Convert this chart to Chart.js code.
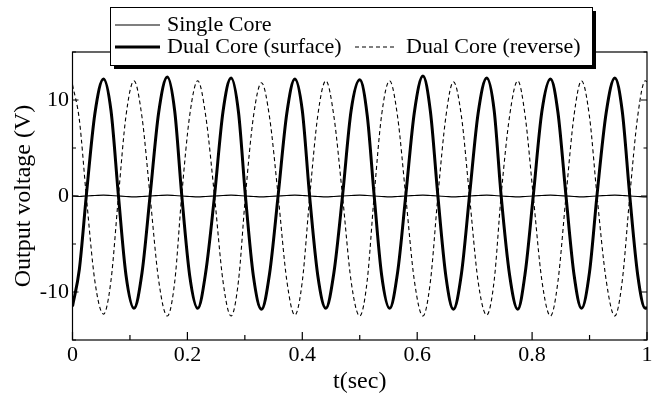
<!DOCTYPE html>
<html>
<head>
<meta charset="utf-8">
<script src="https://cdn.jsdelivr.net/npm/chart.js@4.4.1/dist/chart.umd.min.js"></script>
<style>
  body { margin: 0; background: #fff; }
  #wrap { width: 659px; height: 401px; }
</style>
</head>
<body>
<div id="wrap"><canvas id="grafico" width="659" height="401"></canvas></div>
<script>
// tiempos (s): maximos, cruces por cero y puntos intermedios
var tiempos = [0, 0.012, 0.024, 0.039, 0.054, 0.067, 0.080, 0.093, 0.107, 0.121,
  0.135, 0.150, 0.165, 0.178, 0.190, 0.204, 0.218, 0.232, 0.247, 0.262,
  0.276, 0.289, 0.301, 0.315, 0.329, 0.343, 0.358, 0.373, 0.387, 0.400,
  0.413, 0.427, 0.441, 0.455, 0.470, 0.485, 0.500, 0.513, 0.525, 0.538,
  0.552, 0.566, 0.580, 0.595, 0.610, 0.623, 0.636, 0.650, 0.663, 0.677,
  0.691, 0.706, 0.721, 0.734, 0.746, 0.761, 0.775, 0.788, 0.802, 0.817,
  0.832, 0.845, 0.859, 0.873, 0.886, 0.900, 0.913, 0.929, 0.944, 0.957,
  0.970, 0.984, 0.997, 1.000];

var singleCore = [0, -0.05, 0, 0.05, 0.1, 0.05, 0, -0.05, -0.1, -0.05,
  0, 0.05, 0.1, 0.05, 0, -0.05, -0.1, -0.05, 0, 0.05,
  0.1, 0.05, 0, -0.05, -0.1, -0.05, 0, 0.05, 0.1, 0.05,
  0, -0.05, -0.1, -0.05, 0, 0.05, 0.1, 0.05, 0, -0.05,
  -0.1, -0.05, 0, 0.05, 0.1, 0.05, 0, -0.05, -0.1, -0.05,
  0, 0.05, 0.1, 0.05, 0, -0.05, -0.1, -0.05, 0, 0.05,
  0.1, 0.05, 0, -0.05, -0.1, -0.05, 0, 0.05, 0.1, 0.05,
  0, -0.05, -0.1, -0.1];

var dualSurface = [-11.5, -7.6, 0, 8.6, 12.2, 8.9, 0, -8.2, -11.7, -8.0,
  0, 8.7, 12.4, 8.8, 0.2, -8.3, -11.7, -7.9, -0.1, 8.8,
  12.3, 8.7, 0, -8.4, -11.8, -8.1, 0.1, 8.6, 12.2, 8.9,
  -0.2, -8.3, -11.7, -8.0, 0, 8.9, 12.1, 8.4, 0.1, -8.2,
  -11.7, -7.9, 0, 8.7, 12.5, 8.8, 0, -8.4, -11.8, -8.1,
  0, 8.6, 12.3, 8.9, 0.1, -8.3, -11.8, -8.0, 0, 8.8,
  12.2, 8.7, 0, -8.2, -11.7, -7.9, 0.1, 8.7, 12.3, 8.8,
  0, -8.3, -11.7, -11.6];

var dualReverse = [11.6, 7.9, 0, -8.9, -12.3, -8.8, 0, 8.3, 12.0, 8.2,
  0, -8.8, -12.5, -8.9, 0, 8.4, 12.0, 8.3, 0.1, -8.9,
  -12.5, -8.8, 0, 8.3, 11.8, 8.2, 0, -8.8, -12.4, -8.9,
  0, 8.4, 12.0, 8.3, 0, -8.9, -12.5, -8.8, 0, 8.4,
  12.0, 8.2, 0, -8.8, -12.5, -8.9, 0, 8.3, 11.9, 8.3,
  0, -8.9, -12.4, -8.8, 0, 8.4, 12.0, 8.3, 0, -8.8,
  -12.5, -8.9, 0, 8.4, 12.0, 8.2, 0, -8.8, -12.5, -8.8,
  0, 8.4, 12.0, 11.9];

var etiquetas = ['Single Core', 'Dual Core (surface)', 'Dual Core (reverse)'];
var ticksX = [0, 0.2, 0.4, 0.6, 0.8, 1];
var ticksXmenor = [0.1, 0.3, 0.5, 0.7, 0.9];
var ticksY = [-10, 0, 10];
var ticksYmenor = [-15, -5, 5, 15];

var fuente = '"Liberation Serif", "Times New Roman", serif';

function puntos(valores) {
  var arr = [];
  for (var i = 0; i < tiempos.length; i++) {
    arr.push({ x: tiempos[i], y: valores[i] });
  }
  return arr;
}

// marco, marcas hacia adentro y leyenda con sombra
var marcoPlugin = {
  id: 'marco',
  afterDraw: function(chart) {
    var ctx = chart.ctx;
    var a = chart.chartArea;
    var sx = chart.scales.x, sy = chart.scales.y;
    ctx.save();
    ctx.strokeStyle = '#000';
    ctx.lineWidth = 1.2;
    ctx.strokeRect(a.left, a.top, a.right - a.left, a.bottom - a.top);

    ctx.beginPath();
    ticksX.forEach(function(v) {
      var px = sx.getPixelForValue(v);
      ctx.moveTo(px, a.bottom); ctx.lineTo(px, a.bottom - 8);
    });
    ticksXmenor.forEach(function(v) {
      var px = sx.getPixelForValue(v);
      ctx.moveTo(px, a.bottom); ctx.lineTo(px, a.bottom - 5);
    });
    ticksY.forEach(function(v) {
      var py = sy.getPixelForValue(v);
      ctx.moveTo(a.left, py); ctx.lineTo(a.left + 6, py);
      ctx.moveTo(a.right, py); ctx.lineTo(a.right - 6, py);
    });
    ticksYmenor.forEach(function(v) {
      var py = sy.getPixelForValue(v);
      ctx.moveTo(a.left, py); ctx.lineTo(a.left + 3.5, py);
      ctx.moveTo(a.right, py); ctx.lineTo(a.right - 3.5, py);
    });
    ctx.stroke();

    // leyenda
    var L = 110, T = 7, R = 592, B = 65;
    ctx.fillStyle = '#000';
    ctx.fillRect(L + 4, T + 4, R - L, B - T);
    ctx.fillStyle = '#fff';
    ctx.fillRect(L, T, R - L, B - T);
    ctx.lineWidth = 1;
    ctx.strokeRect(L + 0.5, T + 0.5, R - L, B - T);

    var ds = chart.data.datasets;
    var items = [
      { x1: 115, x2: 160, y: 25, tx: 167 },
      { x1: 115, x2: 160, y: 47, tx: 167 },
      { x1: 355, x2: 397, y: 47, tx: 406 }
    ];
    ctx.font = '22px ' + fuente;
    ctx.textBaseline = 'middle';
    ctx.textAlign = 'left';
    items.forEach(function(it, i) {
      ctx.beginPath();
      ctx.lineWidth = ds[i].borderWidth;
      ctx.setLineDash(ds[i].borderDash || []);
      ctx.moveTo(it.x1, it.y); ctx.lineTo(it.x2, it.y);
      ctx.stroke();
      ctx.setLineDash([]);
      ctx.fillStyle = '#000';
      ctx.fillText(ds[i].label, it.tx, it.y);
    });
    ctx.restore();
  }
};

var ctx = document.getElementById('grafico').getContext('2d');
var grafico = new Chart(ctx, {
  type: 'line',
  data: {
    datasets: [{
      label: etiquetas[0],
      data: puntos(singleCore),
      borderColor: '#000',
      borderWidth: 1.2,
      pointRadius: 0,
      cubicInterpolationMode: 'monotone'
    }, {
      label: etiquetas[1],
      data: puntos(dualSurface),
      borderColor: '#000',
      borderWidth: 3,
      pointRadius: 0,
      cubicInterpolationMode: 'monotone'
    }, {
      label: etiquetas[2],
      data: puntos(dualReverse),
      borderColor: '#000',
      borderWidth: 1.1,
      borderDash: [4, 3],
      pointRadius: 0,
      cubicInterpolationMode: 'monotone'
    }]
  },
  options: {
    responsive: false,
    animation: false,
    devicePixelRatio: 1,
    layout: { padding: { top: 52, right: 12, left: 0, bottom: 0 } },
    plugins: { legend: { display: false }, tooltip: { enabled: false } },
    scales: {
      x: {
        type: 'linear',
        min: 0, max: 1,
        grid: { display: false, drawTicks: false },
        border: { display: false },
        afterBuildTicks: function(s) { s.ticks = ticksX.map(function(v) { return { value: v }; }); },
        afterFit: function(s) { s.height = 61; },
        ticks: {
          color: '#000', padding: 2, maxRotation: 0,
          font: { family: fuente, size: 22 },
          callback: function(v) { return String(v); }
        },
        title: { display: true, text: 't(sec)', color: '#000', padding: { top: 0, bottom: 5 }, font: { family: fuente, size: 24 } }
      },
      y: {
        min: -15, max: 15,
        grid: { display: false, drawTicks: false },
        border: { display: false },
        afterBuildTicks: function(s) { s.ticks = ticksY.map(function(v) { return { value: v }; }); },
        afterFit: function(s) { s.width = 72.5; },
        ticks: { color: '#000', padding: 3.5, font: { family: fuente, size: 22 } },
        title: { display: true, text: 'Output voltage (V)', color: '#000', padding: { top: 9.6, bottom: 0 }, font: { family: fuente, size: 24 } }
      }
    }
  },
  plugins: [marcoPlugin]
});
</script>
</body>
</html>
